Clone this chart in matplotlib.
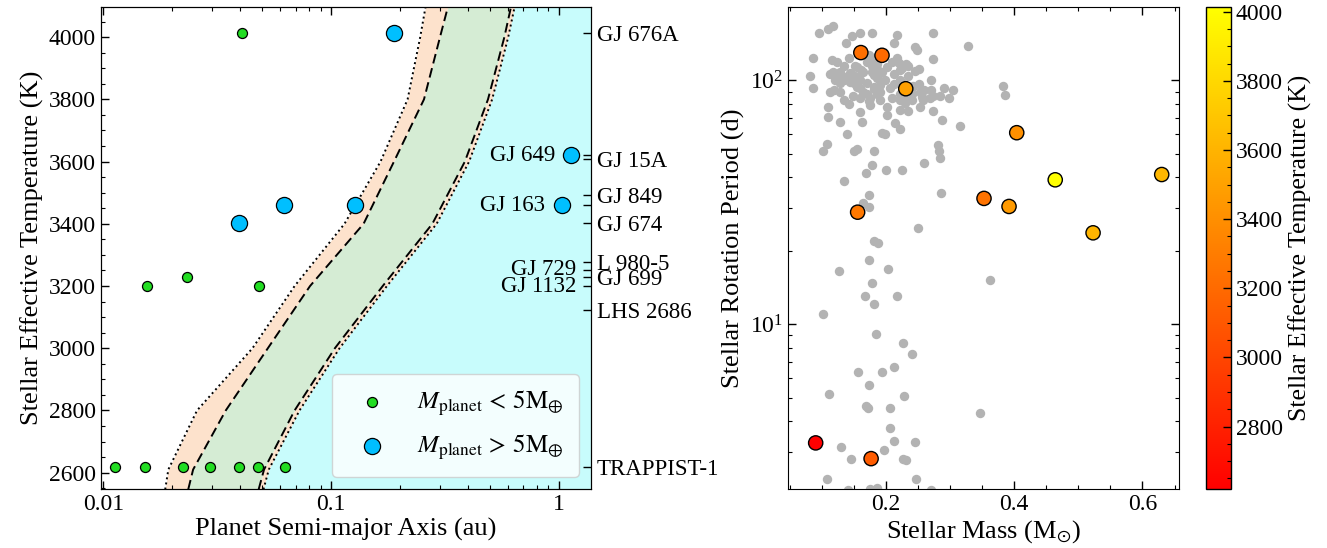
import matplotlib
matplotlib.use("Agg")
import matplotlib.pyplot as plt
from matplotlib.ticker import MultipleLocator, NullLocator, LogLocator, NullFormatter

plt.rcParams['font.family'] = 'serif'
plt.rcParams['font.serif'] = ['Liberation Serif', 'DejaVu Serif']
plt.rcParams['mathtext.fontset'] = 'stix'
plt.rcParams['font.size'] = 17
plt.rcParams['axes.labelsize'] = 19

# ---------------- Habitable-zone boundaries (au) versus stellar Teff (K)
hz_teff = [2546, 2610, 2800, 3000, 3200, 3400, 3600, 3800, 4000, 4097]
hz_recent_venus = [0.0187, 0.0193, 0.0258, 0.0452, 0.0692, 0.1146, 0.165, 0.2169, 0.2464, 0.260]
hz_runaway = [0.0236, 0.0248, 0.0345, 0.0528, 0.0809, 0.139, 0.189, 0.256, 0.301, 0.326]
hz_max_greenhouse = [0.0481, 0.0508, 0.0692, 0.104, 0.1687, 0.2786, 0.387, 0.489, 0.577, 0.617]
hz_early_mars = [0.0505, 0.0533, 0.0727, 0.109, 0.176, 0.291, 0.404, 0.510, 0.600, 0.640]

# ---------------- Planets
small_a = [0.0405, 0.0156, 0.0233, 0.0483,
           0.01122, 0.01525, 0.0224, 0.0294, 0.0396, 0.0480, 0.0627]
small_teff = [4014, 3200, 3228, 3200,
              2618, 2618, 2618, 2618, 2618, 2618, 2618]
big_a = [0.189, 1.13, 1.03, 0.0396, 0.062, 0.127]
big_teff = [4014, 3620, 3460, 3404, 3460, 3460]

# ---------------- Host stars marked on the right-hand axis
star_teff = [4014, 3620, 3607, 3492, 3460, 3404, 3277, 3252, 3228, 3200, 3122, 2618]
star_names = ['GJ 676A', 'GJ 649', 'GJ 15A', 'GJ 849', 'GJ 163', 'GJ 674',
              'L 980-5', 'GJ 729', 'GJ 699', 'GJ 1132', 'LHS 2686', 'TRAPPIST-1']
inner_names = ['GJ 649', 'GJ 163', 'GJ 729', 'GJ 1132']
inner_label_a = [0.963, 0.873, 1.19, 1.19]

# ---------------- M-dwarf rotation sample
field_mass = [
    0.096, 0.110, 0.117, 0.160, 0.178, 0.218, 0.273, 0.147, 0.138, 0.212,
    0.246, 0.248, 0.087, 0.116, 0.124, 0.134, 0.142, 0.152, 0.217, 0.273,
    0.082, 0.086, 0.113, 0.121, 0.129, 0.136, 0.144, 0.155, 0.160, 0.165,
    0.170, 0.178, 0.186, 0.191, 0.199, 0.207, 0.212, 0.222, 0.235, 0.246,
    0.252, 0.260, 0.271, 0.271, 0.290, 0.305, 0.299, 0.316, 0.287, 0.113,
    0.119, 0.135, 0.110, 0.110, 0.160, 0.175, 0.191, 0.201, 0.214, 0.222,
    0.194, 0.199, 0.235, 0.253, 0.258, 0.240, 0.222, 0.186, 0.175, 0.149,
    0.142, 0.139, 0.129, 0.165, 0.201, 0.209, 0.186, 0.232, 0.170, 0.129,
    0.150, 0.227, 0.240, 0.181, 0.160, 0.209, 0.232, 0.269, 0.274,
    0.128, 0.173, 0.181, 0.220, 0.251, 0.284, 0.222, 0.191, 0.181, 0.170,
    0.155, 0.144, 0.134, 0.123, 0.118, 0.149, 0.160, 0.181, 0.212, 0.222,
    0.243, 0.253, 0.230, 0.201, 0.174, 0.186, 0.194, 0.162, 0.155, 0.178,
    0.225, 0.235, 0.240, 0.256, 0.274, 0.222, 0.163,
    0.328, 0.383, 0.386, 0.363, 0.347,
    0.108, 0.102, 0.151, 0.155, 0.181, 0.282, 0.283, 0.285, 0.178, 0.169,
    0.200, 0.225, 0.260, 0.135, 0.174, 0.286, 0.165, 0.173, 0.250, 0.182,
    0.188, 0.174, 0.127, 0.203,
    0.178, 0.168, 0.218, 0.182, 0.102, 0.185, 0.227, 0.240, 0.157, 0.194,
    0.212, 0.174, 0.112, 0.228,
    0.169, 0.172, 0.206, 0.207, 0.212, 0.246, 0.130, 0.197, 0.145, 0.226,
    0.232, 0.109, 0.247, 0.175, 0.186, 0.271, 0.141,
]
field_prot = [
    157, 163, 167, 157, 157, 153, 156, 152, 142, 142,
    137, 133, 124, 121, 119, 114, 123, 115, 123, 122,
    104, 93, 106, 100, 98, 103, 107, 103, 93, 90,
    98, 108, 102.5, 96, 100, 93, 106, 110, 104, 109,
    97, 91, 100, 91, 93, 91, 85, 65, 68.5, 89.6,
    91, 82.8, 78, 70.7, 74, 79, 83, 71.8, 66.8, 63,
    61, 60.5, 75, 77.7, 83, 83, 83, 88, 85, 86.6,
    80, 60.4, 89.6, 108, 113.6, 119, 117, 117, 119, 108,
    98, 97, 94, 94, 85, 85, 86.6, 85, 75,
    67.4, 127, 123, 118, 111, 86.6, 88, 89.6, 92.4, 88,
    94, 98.6, 100, 103, 108, 104.8, 100, 104.8, 97, 100,
    95, 89.6, 80.4, 77.7, 82.4, 111.4, 108, 110, 113, 114.7,
    112, 114, 88, 85.5, 86.6, 75.4, 67.4,
    138, 94.5, 86.8, 15.2, 4.33,
    54.6, 51.3, 51.3, 52.4, 51.1, 54.1, 51.3, 48.1, 44.8, 41.7,
    42.9, 42.7, 45.7, 38.8, 33.9, 34.4, 31.3, 30.3, 24.9, 21.9,
    21.6, 18.3, 16.6, 16.9,
    14.7, 13.0, 13.1, 12.1, 11.0, 9.1, 8.36, 7.53, 6.37, 6.37,
    6.68, 5.61, 5.15, 5.10,
    4.61, 4.54, 4.54, 3.76, 3.33, 3.29, 3.13, 3.04, 2.80, 2.79,
    2.78, 2.31, 2.31, 2.10, 2.13, 2.09, 2.09,
]

host_mass = [0.161, 0.194, 0.231, 0.404, 0.464, 0.630, 0.353, 0.392, 0.523, 0.156, 0.0906, 0.177]
host_prot = [130, 126.7, 92.4, 61, 39.1, 41.1, 32.8, 30.4, 23.7, 28.8, 3.26, 2.81]
host_teff = [3228, 3200, 3492, 3404, 4014, 3620, 3250, 3460, 3607, 3277, 2618, 3122]

PEACH = '#fde2cc'
GREEN = '#d5ecd4'
CYAN = '#c8fcfc'

fig = plt.figure(figsize=(13.27, 5.48), dpi=100)
ax1 = fig.add_axes([0.0758, 0.1068, 0.3698, 0.8805])
ax2 = fig.add_axes([0.5936, 0.1068, 0.2949, 0.8805])
cax = fig.add_axes([0.9088, 0.1068, 0.0188, 0.8805])

# ---------------- Left panel: planets and habitable zone
ax1.set_xscale('log')
ax1.set_xlim(0.00973, 1.39)
ax1.set_ylim(2546, 4097)
x_hi = [ax1.get_xlim()[1] * 2] * len(hz_teff)
ax1.fill_betweenx(hz_teff, hz_recent_venus, hz_runaway, color=PEACH, lw=0)
ax1.fill_betweenx(hz_teff, hz_runaway, hz_max_greenhouse, color=GREEN, lw=0)
ax1.fill_betweenx(hz_teff, hz_max_greenhouse, hz_early_mars, color=PEACH, lw=0)
ax1.fill_betweenx(hz_teff, hz_early_mars, x_hi, color=CYAN, lw=0)
ax1.plot(hz_recent_venus, hz_teff, color='k', ls=':', lw=1.4)
ax1.plot(hz_early_mars, hz_teff, color='k', ls=':', lw=1.4)
ax1.plot(hz_runaway, hz_teff, color='k', ls=(0, (5, 2.5)), lw=1.4)
ax1.plot(hz_max_greenhouse, hz_teff, color='k', ls=(0, (5, 2.5)), lw=1.4)

ax1.scatter(small_a, small_teff, s=52, c='#22dd22', edgecolors='k', linewidths=0.9,
            zorder=4, label=r'$M_{\rm planet} \,<\, 5\mathrm{M}_{\oplus}$')
ax1.scatter(big_a, big_teff, s=135, c='#00bfff', edgecolors='k', linewidths=0.9,
            zorder=4, label=r'$M_{\rm planet} \,>\, 5\mathrm{M}_{\oplus}$')

ax1.set_xticks([0.01, 0.1, 1])
ax1.set_xticklabels(['0.01', '0.1', '1'])
ax1.yaxis.set_major_locator(MultipleLocator(200))
ax1.yaxis.set_minor_locator(MultipleLocator(50))
ax1.tick_params(which='both', direction='in', top=True, right=False)
ax1.tick_params(which='major', length=6, width=1)
ax1.tick_params(which='minor', length=3, width=0.8)
ax1.set_xlabel('Planet Semi-major Axis (au)', labelpad=2)
ax1.set_ylabel('Stellar Effective Temperature (K)', labelpad=3)

for name, a in zip(inner_names, inner_label_a):
    ax1.text(a, star_teff[star_names.index(name)], name, ha='right', va='center',
             fontsize=16.5, zorder=5)

leg = ax1.legend(loc='lower right', fontsize=18, labelspacing=0.6,
                 borderpad=0.6, handletextpad=0.8, borderaxespad=0.5)

ax1t = ax1.twinx()
ax1t.set_ylim(ax1.get_ylim())
ax1t.set_yticks(star_teff)
ax1t.set_yticklabels(['' if n in inner_names else n for n in star_names],
                     fontsize=16.5)
ax1t.yaxis.set_minor_locator(NullLocator())
ax1t.tick_params(axis='y', direction='in', length=6, width=1, pad=4)

# ---------------- Right panel: rotation periods
ax2.scatter(field_mass, field_prot, s=46, c='#b3b3b3', linewidths=0, zorder=2)
sc = ax2.scatter(host_mass, host_prot, c=host_teff, cmap='autumn',
                 vmin=min(host_teff), vmax=max(host_teff), s=105,
                 edgecolors='k', linewidths=1.0, zorder=3)
ax2.set_yscale('log')
ax2.set_xlim(0.047, 0.657)
ax2.set_ylim(2.1, 200)
ax2.xaxis.set_major_locator(MultipleLocator(0.2))
ax2.xaxis.set_minor_locator(MultipleLocator(0.05))
ax2.yaxis.set_minor_locator(LogLocator(subs=range(2, 10)))
ax2.yaxis.set_minor_formatter(NullFormatter())
ax2.tick_params(which='both', direction='in', top=True, right=True)
ax2.tick_params(which='major', length=6, width=1)
ax2.tick_params(which='minor', length=3, width=0.8)
ax2.set_xlabel(r'Stellar Mass (M$_{\odot}$)', labelpad=2)
ax2.set_ylabel('Stellar Rotation Period (d)', labelpad=3)

cb = fig.colorbar(sc, cax=cax)
cb.set_ticks(list(range(2800, 4001, 200)))
cb.ax.yaxis.set_minor_locator(MultipleLocator(50))
cb.ax.tick_params(which='both', direction='in')
cb.ax.tick_params(which='major', length=6, width=1)
cb.ax.tick_params(which='minor', length=3, width=0.8)
cb.outline.set_linewidth(1)
cb.set_label('Stellar Effective Temperature (K)', fontsize=18.5)

fig.savefig('out.png', dpi=100)
